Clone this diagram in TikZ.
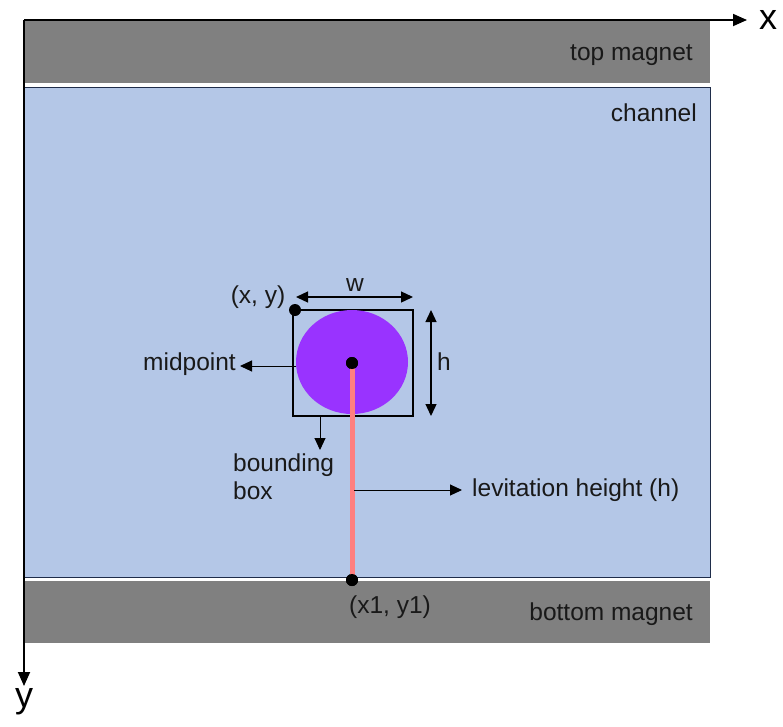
\documentclass[tikz,border=0pt]{standalone}
\usepackage{fontspec}
\setmainfont{Liberation Sans}
\usetikzlibrary{arrows.meta,shapes.geometric}
\definecolor{magnet}{HTML}{808080}
\definecolor{chan}{HTML}{B4C7E7}
\definecolor{chanborder}{HTML}{1F2D4A}
\definecolor{ball}{HTML}{9933FF}
\definecolor{rod}{HTML}{FF7F7F}
\tikzset{
  lbl/.style={font=\fontsize{24.5}{28}\selectfont, inner sep=0pt, text=black!90},
  axlbl/.style={font=\fontsize{36}{40}\selectfont, inner sep=0pt},
  arr/.style={-{Triangle[length=12pt,width=11pt]}, line width=1pt},
  darr/.style={{Triangle[length=12pt,width=11pt]}-{Triangle[length=12pt,width=11pt]}, line width=1.3pt},
  dot/.style={circle, fill=black, inner sep=0pt, minimum size=12pt},
}
\begin{document}
\begin{tikzpicture}[x=1pt,y=-1pt]
\useasboundingbox (0,0) rectangle (783,726);
% magnets and channel
\fill[magnet] (24,20) rectangle (710,83);
\draw[chanborder, line width=0.8pt, fill=chan] (24,87) rectangle (710,577);
\fill[magnet] (24,581) rectangle (710,643);
% axes
\coordinate (O) at (24,20);
\coordinate (xe) at (747,20);
\coordinate (ye) at (24,686);
\draw[-{Triangle[length=14pt,width=12pt]}, line width=1.8pt] (O) -- (xe);
\draw[-{Triangle[length=14pt,width=12pt]}, line width=1.8pt] (O) -- (ye);
\node[axlbl] (xl) at (768,20) {x};
\node[axlbl] (yl) at (24,702) {y};
% labels of regions
\node[lbl, anchor=east] (tm) at (693,55) {top magnet};
\node[lbl, anchor=east] (ch) at (697,113) {channel};
\node[lbl, anchor=east] (bm) at (693,614) {bottom magnet};
% object
\node[draw, line width=1.4pt, minimum width=120pt, minimum height=106pt, inner sep=0pt] (bb) at (353,363) {};
\node[ellipse, fill=ball, minimum width=112pt, minimum height=104pt, inner sep=0pt] (ball) at (352,362) {};
\node[dot] (mid) at (352,363) {};
\node[dot] (xy) at (295,310) {};
\node[dot] (bot) at (352,580) {};
\draw[rod, line width=5pt] (mid.center) -- (bot.center);
\node[dot] at (352,363) {};
\node[dot] at (352,580) {};
% w and h
\coordinate (wl) at (296,297);
\coordinate (wr) at (413,297);
\draw[darr] (wl) -- (wr);
\node[lbl] (w) at (355,285) {w};
\coordinate (ht) at (431,310);
\coordinate (hb) at (431,416);
\draw[darr] (ht) -- (hb);
\node[lbl] (h) at (444,362) {h};
\node[lbl] (xyl) at (258,297) {(x, y)};
% midpoint
\node[lbl, anchor=east] (midl) at (236,364) {midpoint};
\coordinate (ms) at (296,366);
\coordinate (me) at (240,366);
\draw[arr] (ms) -- (me);
% bounding box
\coordinate (bs) at (320,416);
\coordinate (be) at (320,450);
\draw[arr] (bs) -- (be);
\node[lbl, anchor=north west, align=left] (bbl) at (233,454) {bounding\\box};
% levitation
\coordinate (ls) at (354,490);
\coordinate (le) at (462,490);
\node[lbl, anchor=west] (lev) at (472,490) {levitation height (h)};
\draw[arr] (ls) -- (le);
\node[lbl] (x1) at (390,607) {(x1, y1)};
\end{tikzpicture}
\end{document}
